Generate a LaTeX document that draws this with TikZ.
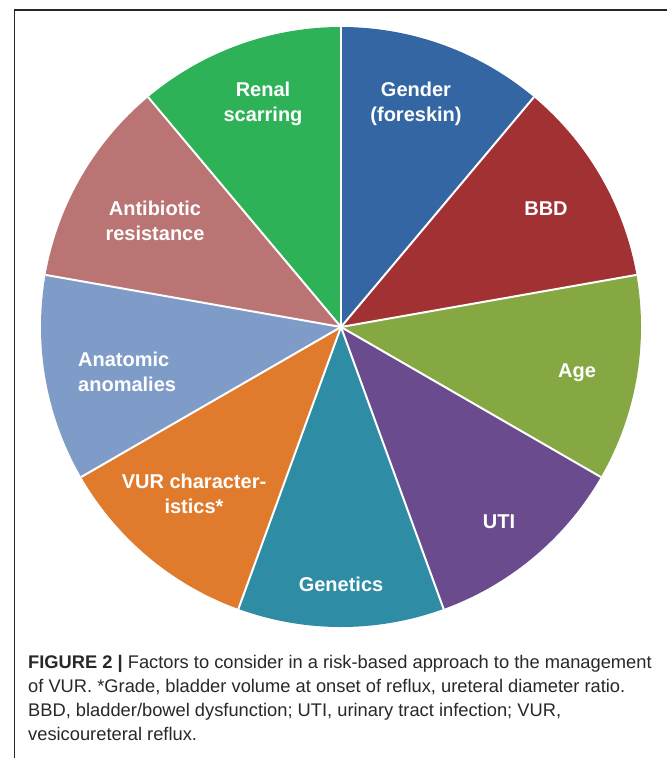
\documentclass[tikz,border=0pt]{standalone}
\usepackage{fontspec}
\setmainfont{Liberation Sans}
\definecolor{cGender}{RGB}{52,102,163}
\definecolor{cBBD}{RGB}{161,49,51}
\definecolor{cAge}{RGB}{134,168,67}
\definecolor{cUTI}{RGB}{106,76,142}
\definecolor{cGenetics}{RGB}{46,140,165}
\definecolor{cVUR}{RGB}{224,123,46}
\definecolor{cAnatomic}{RGB}{127,156,201}
\definecolor{cAntibiotic}{RGB}{185,116,115}
\definecolor{cRenal}{RGB}{45,178,87}
\definecolor{captext}{RGB}{40,40,40}
\begin{document}
\begin{tikzpicture}[x=1pt,y=-1pt,
  slicelabel/.style={text=white, font=\fontsize{20}{25}\selectfont\bfseries, align=center, inner sep=0pt},
  captionline/.style={anchor=base west, inner sep=0pt, font=\fontsize{18.3}{24}\selectfont, text=captext},
  separator/.style={white, line width=2pt}]
\useasboundingbox (0,0) rectangle (667,758);
\fill[white] (0,0) rectangle (667,758);
% frame around the figure
\draw[line width=1.2pt, black!85] (667,10) -- (14.5,10) -- (14.5,758);
% pie of nine equal sectors
\coordinate (c) at (341,327);
\begin{scope}[shift={(c)}, yscale=-1]
  \foreach \a/\b/\col in {50/90/cGender, 10/50/cBBD, -30/10/cAge, -70/-30/cUTI,
      -110/-70/cGenetics, -150/-110/cVUR, -190/-150/cAnatomic, -230/-190/cAntibiotic,
      -270/-230/cRenal}
    \fill[\col] (0,0) -- (\a:300) arc[start angle=\a, end angle=\b, radius=300] -- cycle;
  \foreach \a in {10,50,90,130,170,210,250,290,330}
    \draw[separator] (0,0) -- (\a:300);
\end{scope}
% sector labels
\node[slicelabel] (renal) at (263,104) {Renal\\scarring};
\node[slicelabel] (gender) at (416,104) {Gender\\(foreskin)};
\node[slicelabel] (bbd) at (546,209) {BBD};
\node[slicelabel] (age) at (577,373) {Age};
\node[slicelabel] (uti) at (499,522) {UTI};
\node[slicelabel] (genetics) at (341,584) {Genetics};
\node[slicelabel] (vur) at (194,494) {VUR character-\\istics*};
\node[slicelabel, align=left, anchor=west] (anatomic) at (78,372) {Anatomic\\anomalies};
\node[slicelabel] (antibiotic) at (155,221) {Antibiotic\\resistance};
% caption
\node[captionline] (cap1) at (28,668) {\textbf{FIGURE 2 |} Factors to consider in a risk-based approach to the management};
\node[captionline] (cap2) at (28,692) {of VUR. *Grade, bladder volume at onset of reflux, ureteral diameter ratio.};
\node[captionline] (cap3) at (28,716) {BBD, bladder/bowel dysfunction; UTI, urinary tract infection; VUR,};
\node[captionline] (cap4) at (28,740) {vesicoureteral reflux.};
\end{tikzpicture}
\end{document}
